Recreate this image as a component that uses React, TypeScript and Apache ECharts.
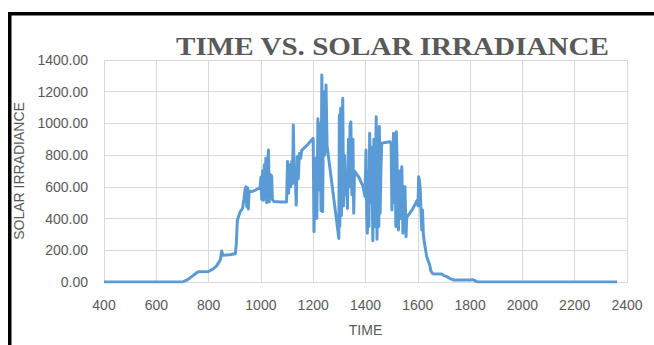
import React, { useEffect, useRef } from "react";
import * as echarts from "echarts";

const titleText = "TIME VS. SOLAR IRRADIANCE";
const xAxisName = "TIME";
const yAxisName = "SOLAR IRRADIANCE";
const xTicks = { min: 400, max: 2400, interval: 200 };
const yTicks = { min: 0, max: 1400, interval: 200 };

const times: number[] = [
  400, 700, 720, 740, 760, 800, 815, 830, 845, 850, 855, 880, 902, 906, 910, 914, 920, 930, 935, 940,
  943, 946, 949, 952, 955, 965, 980, 997, 1000, 1003, 1006, 1010, 1013, 1016, 1019, 1022, 1025, 1029, 1032, 1035,
  1038, 1041, 1044, 1050, 1075, 1098, 1102, 1106, 1110, 1114, 1118, 1121, 1124, 1127, 1131, 1135, 1139, 1143, 1147, 1152,
  1156, 1175, 1200, 1203, 1206, 1210, 1214, 1218, 1222, 1226, 1230, 1233, 1236, 1240, 1244, 1249, 1253, 1298, 1300, 1302,
  1305, 1308, 1311, 1313, 1316, 1320, 1324, 1328, 1331, 1335, 1338, 1341, 1344, 1348, 1352, 1355, 1358, 1362, 1375, 1390,
  1398, 1402, 1405, 1407, 1410, 1413, 1416, 1420, 1424, 1428, 1432, 1436, 1441, 1444, 1448, 1451, 1453, 1456, 1459, 1462,
  1475, 1494, 1498, 1501, 1504, 1507, 1510, 1513, 1516, 1518, 1520, 1523, 1526, 1530, 1533, 1536, 1539, 1543, 1547, 1551,
  1555, 1558, 1560, 1580, 1598, 1601, 1603, 1606, 1609, 1612, 1615, 1618, 1621, 1625, 1630, 1634, 1641, 1645, 1650, 1657,
  1692, 1700, 1711, 1725, 1736, 1800, 1810, 1826, 1840, 2362,
];

const irradiance: number[] = [
  0, 0, 15, 40, 65, 66, 80, 100, 140, 195, 168, 172, 178, 240, 390, 410, 440, 465, 520, 590,
  600, 475, 595, 460, 575, 570, 580, 595, 660, 520, 700, 515, 740, 620, 780, 500, 700, 832, 505, 680,
  540, 670, 520, 508, 505, 505, 760, 560, 740, 600, 760, 620, 990, 700, 720, 485, 790, 650, 810, 780,
  830, 860, 906, 317, 600, 780, 400, 1030, 580, 1000, 450, 1305, 443, 1200, 800, 1242, 860, 275, 1053, 350,
  1095, 420, 900, 1158, 480, 800, 550, 700, 464, 900, 600, 990, 1010, 550, 900, 433, 700, 690, 660, 605,
  540, 832, 400, 307, 700, 350, 938, 500, 850, 260, 900, 350, 1042, 270, 800, 350, 980, 433, 700, 875,
  880, 885, 870, 454, 700, 938, 500, 870, 350, 948, 811, 500, 328, 700, 400, 650, 727, 307, 600, 601,
  286, 420, 412, 460, 515, 480, 664, 640, 600, 454, 328, 454, 307, 250, 200, 160, 128, 110, 70, 52,
  50, 40, 34, 20, 13, 13, 15, 2, 0, 0,
];

export default function App() {
  const ref = useRef<HTMLDivElement>(null);
  useEffect(() => {
    if (!ref.current) return;
    const chart = echarts.init(ref.current, undefined, { renderer: "svg" });
    const data = times.map((t, i) => [t, irradiance[i]]);
    const gray = "#595959";
    const sans = "'Liberation Sans', sans-serif";
    chart.setOption({
      animation: false,
      backgroundColor: "#ffffff",
      grid: { left: 104, right: 27, top: 60, bottom: 63 },
      graphic: [
        { type: "rect", shape: { x: 8, y: 12, width: 646, height: 3.5 }, style: { fill: "#000" } },
        { type: "rect", shape: { x: 8, y: 12, width: 3.5, height: 333 }, style: { fill: "#000" } },
        {
          type: "text",
          x: 176,
          y: 46,
          scaleX: 1.12,
          style: {
            text: titleText,
            x: 0,
            y: 0,
            fontFamily: "'Liberation Serif', serif",
            fontWeight: "bold",
            fontSize: 26,
            fill: gray,
            textAlign: "left",
            textVerticalAlign: "middle",
          },
        },
      ],
      xAxis: {
        type: "value",
        min: xTicks.min,
        max: xTicks.max,
        interval: xTicks.interval,
        name: xAxisName,
        nameLocation: "middle",
        nameGap: 41,
        nameTextStyle: { color: gray, fontSize: 14, fontFamily: sans },
        axisLine: { show: true, lineStyle: { color: "#d9d9d9", width: 1 } },
        axisTick: { show: false },
        axisLabel: {
          color: gray,
          fontSize: 14,
          margin: 16,
          fontFamily: sans,
          formatter: (v: number) => String(v),
        },
        splitLine: { show: true, lineStyle: { color: "#d9d9d9", width: 1 } },
      },
      yAxis: {
        type: "value",
        min: yTicks.min,
        max: yTicks.max,
        interval: yTicks.interval,
        name: yAxisName,
        nameLocation: "middle",
        nameGap: 72,
        nameTextStyle: { color: gray, fontSize: 14, fontFamily: sans },
        axisLine: { show: false },
        axisTick: { show: false },
        axisLabel: {
          color: gray,
          fontSize: 14,
          margin: 16,
          fontFamily: sans,
          formatter: (v: number) => v.toFixed(2),
        },
        splitLine: { show: true, lineStyle: { color: "#d9d9d9", width: 1 } },
      },
      series: [
        {
          type: "line",
          data,
          showSymbol: false,
          symbol: "none",
          lineStyle: { color: "#5b9bd5", width: 3, join: "round" },
          itemStyle: { color: "#5b9bd5" },
        },
      ],
    });
    return () => chart.dispose();
  }, []);
  return (
    <div
      ref={ref}
      style={{ position: "absolute", left: 0, top: 0, width: 654, height: 345 }}
    />
  );
}
